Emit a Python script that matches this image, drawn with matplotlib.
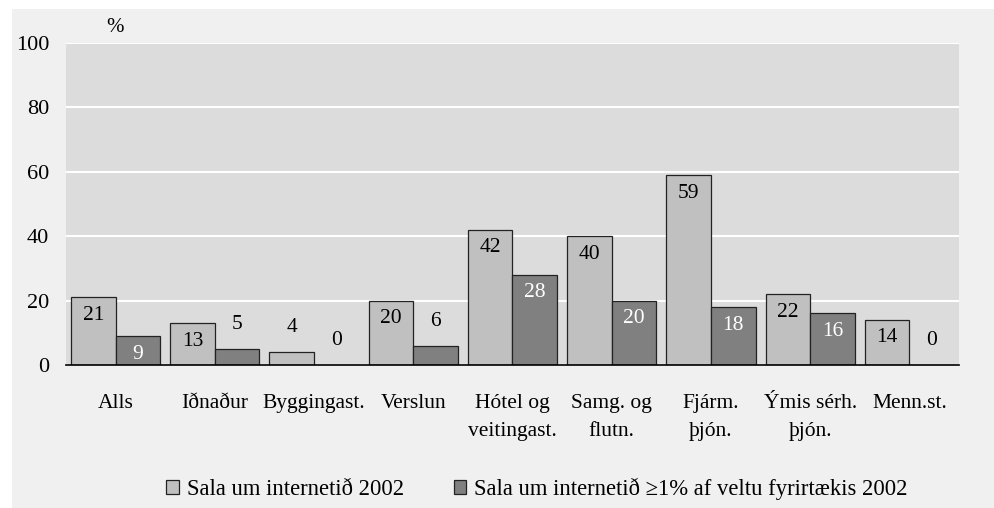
import matplotlib.pyplot as plt
import matplotlib.patches as mpatches
import numpy as np

plt.rcParams['font.family'] = ['Liberation Serif', 'DejaVu Serif']

categories = ["Alls", "Iðnaður", "Byggingast.", "Verslun", "Hótel og\nveitingast.",
              "Samg. og\nflutn.", "Fjárm.\nþjón.", "Ýmis sérh.\nþjón.", "Menn.st."]
sala_2002 = [21, 13, 4, 20, 42, 40, 59, 22, 14]
sala_1pct_2002 = [9, 5, 0, 6, 28, 20, 18, 16, 0]
series_names = ["Sala um internetið 2002",
                "Sala um internetið \u22651% af veltu fyrirtækis 2002"]
yticks = [0, 20, 40, 60, 80, 100]

W, H = 994, 508
fig = plt.figure(figsize=(W / 100, H / 100), dpi=100, facecolor="white")
# grey panel behind the chart, leaves a thin white margin top/left
fig.patches.append(mpatches.Rectangle((12 / W, 0), 1, 1 - 9 / H, transform=fig.transFigure,
                                      facecolor="#f0f0f0", edgecolor="none", zorder=-10))

ax = fig.add_axes([66 / W, 1 - 365 / H, (959 - 66) / W, (365 - 43) / H])
ax.set_facecolor("#dcdcdc")

x = np.arange(len(categories))
w = 0.45
b1 = ax.bar(x - w / 2, sala_2002, w, color="#c0c0c0", edgecolor="#222222", linewidth=0.9, zorder=3)
b2 = ax.bar(x + w / 2, sala_1pct_2002, w, color="#808080", edgecolor="#222222", linewidth=0.9, zorder=3)

px = 100 / (365 - 43)  # data units per pixel
for bars, vals, txtcol in ((b1, sala_2002, "black"), (b2, sala_1pct_2002, "white")):
    for r, v in zip(bars, vals):
        cx = r.get_x() + r.get_width() / 2
        if v >= 9:
            ax.text(cx, v - 18 * px, str(v), ha="center", va="center", fontsize=15.5, color=txtcol, zorder=4)
        else:
            ax.text(cx, v + 7.5, str(v), ha="center", va="center", fontsize=15.5, color="black", zorder=4)

ax.set_ylim(0, 100)
ax.set_xlim(-0.5, len(categories) - 0.5)
ax.set_yticks(yticks)
ax.set_yticklabels([str(t) for t in yticks], fontsize=16)
ax.set_xticks(x)
ax.set_xticklabels(categories, fontsize=15.5, linespacing=1.6, va="top")
ax.tick_params(axis="both", length=0)
ax.tick_params(axis="y", pad=12)
ax.tick_params(axis="x", pad=21)
ax.yaxis.grid(True, color="white", linewidth=1.5, zorder=1)
ax.set_axisbelow(True)
for s in ("left", "right", "top"):
    ax.spines[s].set_visible(False)
ax.spines["bottom"].set_color("black")
ax.spines["bottom"].set_linewidth(1.2)
ax.spines["bottom"].set_zorder(5)

fig.text(115 / W, 1 - 28 / H, "%", ha="center", va="center", fontsize=15)

handles = [mpatches.Patch(facecolor="#c0c0c0", edgecolor="#222222", linewidth=0.9),
           mpatches.Patch(facecolor="#808080", edgecolor="#222222", linewidth=0.9)]
fig.legend(handles, series_names, loc="center", bbox_to_anchor=(537 / W, 1 - 489 / H), ncol=2,
           frameon=False, fontsize=16.3, handlelength=0.55, handleheight=0.55, handletextpad=0.35,
           columnspacing=2.2)

fig.savefig("out.png", dpi=100, facecolor=fig.get_facecolor())
